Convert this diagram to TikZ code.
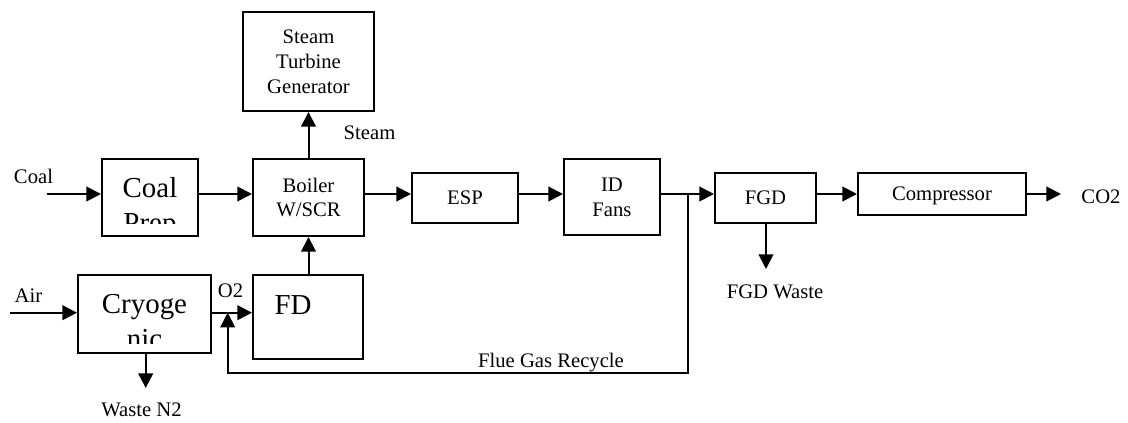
\documentclass[tikz,border=0pt]{standalone}
\usepackage{fontspec}
\setmainfont{Liberation Serif}
\usetikzlibrary{arrows.meta}

\tikzset{
  unit/.style={draw, line width=1.5pt, inner sep=0pt, align=center,
    font=\fontsize{15.5}{18.6}\selectfont},
  lbl/.style={inner sep=0pt, font=\fontsize{15.5}{18.6}\selectfont},
  big/.style={inner sep=0pt, font=\fontsize{21.7}{26}\selectfont},
  flow/.style={line width=1.5pt, -{Triangle[length=11pt,width=11pt]}},
  pipe/.style={line width=1.5pt},
}

\begin{document}
\begin{tikzpicture}[x=0.75pt, y=-0.75pt]
\useasboundingbox (0,0) rectangle (1128,423);

% reference levels of the main gas line and the air line
\coordinate (flow) at (0,194);
\coordinate (airline) at (0,312.7);

% process units
\node[unit, minimum width=72pt,    minimum height=57.75pt] (coal)   at (150,197.5) {};
\node[unit, minimum width=83.25pt, minimum height=57.75pt] (boiler) at (308.5,197.5) {Boiler\\W/SCR};
\node[unit, minimum width=98.25pt, minimum height=74.25pt] (stg)    at (308.5,61.5) {Steam\\Turbine\\Generator};
\node[unit, minimum width=79.5pt,  minimum height=37.5pt]  (esp)    at (465,198) {ESP};
\node[unit, minimum width=72pt,    minimum height=57pt]    (idf)    at (612,197) {ID\\Fans};
\node[unit, minimum width=75.75pt, minimum height=37.5pt]  (fgd)    at (765.5,198) {FGD};
\node[unit, minimum width=126pt,   minimum height=31.5pt, text depth=0pt] (comp) at (942,194) {Compressor};
\node[unit, minimum width=99.75pt, minimum height=58.5pt]  (cryo)   at (144.5,314) {};
\node[unit, minimum width=82.5pt,  minimum height=63pt]    (fd)     at (308,317) {};

% large captions cut off by the box frame
\coordinate (coalclip) at (0,224);
\begin{scope}
  \clip (coal.north west) rectangle (coal.east |- coalclip);
  \node[big, anchor=base] (coalA) at (150,198) {Coal};
  \node[big, anchor=base] (coalB) at (150,233) {Prep};
\end{scope}
\coordinate (cryoclip) at (0,343.3);
\begin{scope}
  \clip (cryo.north west) rectangle (cryo.east |- cryoclip);
  \node[big, anchor=base] (cryoA) at (144.5,313.3) {Cryoge};
  \node[big, anchor=base] (cryoB) at (144.5,348.3) {nic};
\end{scope}
\node[big, anchor=base] (fdtxt) at (293,315) {FD};

% free ends of the streams
\coordinate (coalin) at (47,194);
\coordinate (airin)  at (10,312.7);
\coordinate (n2out)  at (145.7,388);
\coordinate (fgdout) at (766,269);
\coordinate (co2out) at (1061,194);
\coordinate (junc)   at (688.3,194);
\coordinate (rbot)   at (688.3,373.3);
\coordinate (rtip)   at (227.7,312.7);

% main gas path
\draw[flow] (coalin) -- (coal.west |- flow);
\draw[flow] (coal.east |- flow) -- (boiler.west |- flow);
\draw[flow] (boiler.east |- flow) -- (esp.west |- flow);
\draw[flow] (esp.east |- flow) -- (idf.west |- flow);
\draw[pipe] (idf.east |- flow) -- (junc);
\draw[flow] (junc) -- (fgd.west |- flow);
\draw[flow] (fgd.east |- flow) -- (comp.west |- flow);
\draw[flow] (comp.east |- flow) -- (co2out);
\draw[flow] (boiler.north) -- (stg.south);
\draw[flow] (fgd.south -| fgdout) -- (fgdout);

% oxygen supply
\draw[flow] (airin) -- (cryo.west |- airline);
\draw[flow] (cryo.east |- airline) -- (fd.west |- airline);
\draw[flow] (cryo.south -| n2out) -- (n2out);
\draw[flow] (fd.north -| boiler.south) -- (boiler.south);

% flue gas recycle loop
\draw[flow] (junc) -- (rbot) -| (rtip);

% stream labels
\node[lbl, anchor=base] (lcoal)  at (33.5,184) {Coal};
\node[lbl, anchor=base] (lair)   at (28.5,303) {Air};
\node[lbl, anchor=base] (lo2)    at (230.5,298) {O2};
\node[lbl, anchor=base] (lsteam) at (369.5,140) {Steam};
\node[lbl, anchor=base] (ln2)    at (141.5,416.7) {Waste N2};
\node[lbl, anchor=base] (lfgdw)  at (775,298.3) {FGD Waste};
\node[lbl, anchor=base] (lco2)   at (1101,203.3) {CO2};
\node[lbl, anchor=base] (lrec)   at (551,367.3) {Flue Gas Recycle};
\end{tikzpicture}
\end{document}
